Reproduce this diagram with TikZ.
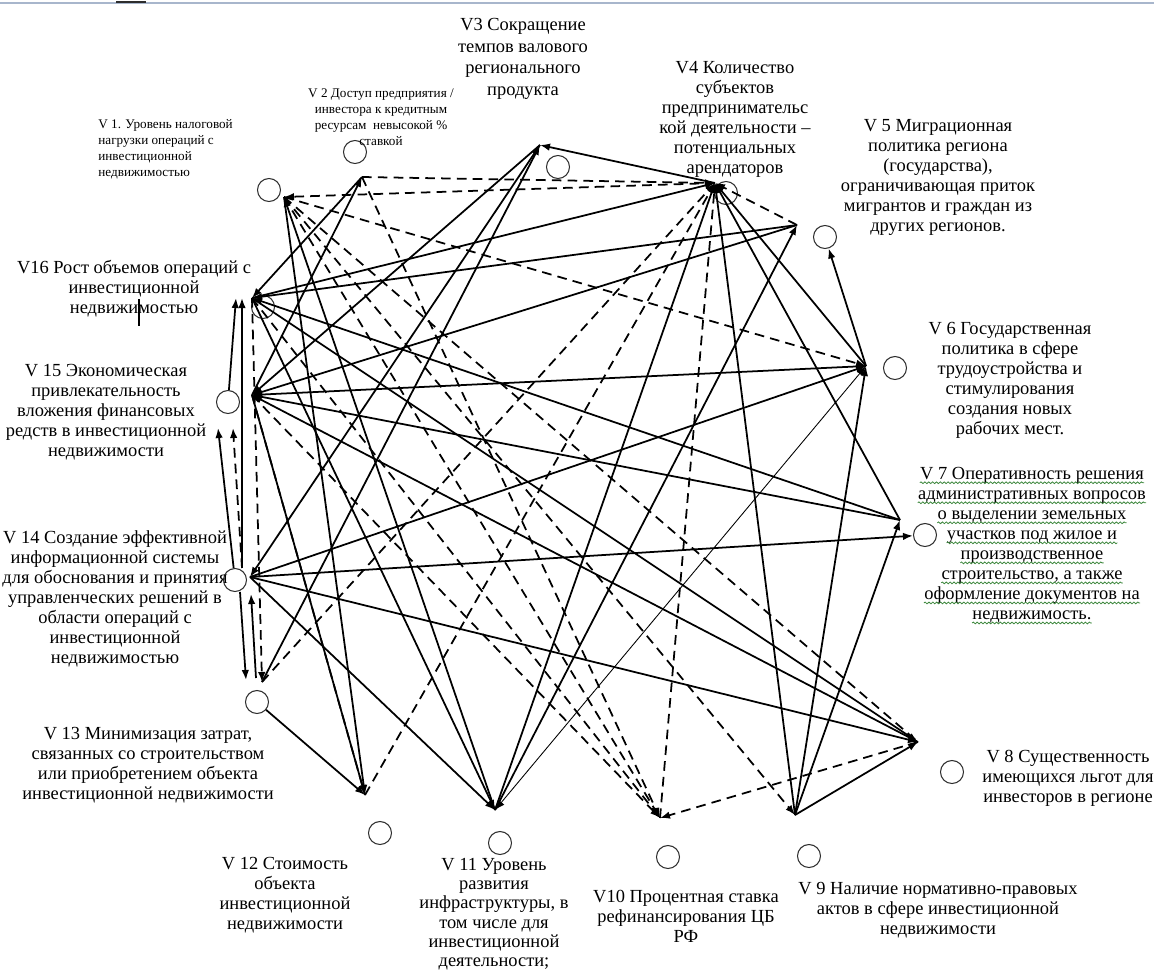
\documentclass[tikz,border=0pt]{standalone}
\usepackage{fontspec}
\setmainfont{Liberation Serif}
\usetikzlibrary{arrows.meta,decorations.pathmorphing}
\definecolor{inkgray}{RGB}{45,45,45}
\definecolor{ruleblue}{RGB}{168,182,204}
\definecolor{spellgreen}{RGB}{60,135,60}
\newcommand\spellwave[1]{\tikz[baseline=(w.base)]{\node[inner sep=0pt] (w) {#1};
  \draw[spellgreen,line width=0.45pt,decorate,decoration={snake,amplitude=0.5pt,segment length=2.2pt}]
    ([yshift=-1.8pt]w.base west) -- ([yshift=-1.8pt]w.base east);}}

\begin{document}
\begin{tikzpicture}[x=0.2mm,y=-0.2mm,
  vtx/.style={circle,draw=inkgray,line width=0.6pt,minimum size=4.6mm,inner sep=0pt},
  lbl/.style={align=center,anchor=north,inner sep=0pt,font=\fontsize{10.5}{11.4}\selectfont},
  tiny/.style={inner sep=0pt,font=\fontsize{7.5}{9.2}\selectfont},
  arc/.style={-{Latex[length=2mm,width=1.5mm]},line width=1pt},
  darc/.style={arc,dash pattern=on 5.5pt off 3.5pt},
  dln/.style={line width=1pt,dash pattern=on 5.5pt off 3.5pt},
  farc/.style={{Latex[length=2mm,width=1.5mm]}-{Latex[length=2mm,width=1.5mm]},line width=0.5pt}
]
  \useasboundingbox (0,0) rectangle (1154,972);
  \draw[ruleblue,line width=1.2pt] (0,3) -- (1154,3);
  \draw[inkgray,line width=1.4pt] (116,2) -- (146,2);

  % vertices
  \node[vtx] (v1) at (269,190) {};
  \node[vtx] (v2) at (355,152) {};
  \node[vtx] (v3) at (558,167) {};
  \node[vtx] (v4) at (726,193) {};
  \node[vtx] (v5) at (825,237) {};
  \node[vtx] (v6) at (895,368) {};
  \node[vtx] (v7) at (925,535) {};
  \node[vtx] (v8) at (952,772) {};
  \node[vtx] (v9) at (809,856) {};
  \node[vtx] (v10) at (668,857) {};
  \node[vtx] (v11) at (500,843) {};
  \node[vtx] (v12) at (380,833) {};
  \node[vtx] (v13) at (257,702) {};
  \node[vtx] (v14) at (235,580) {};
  \node[vtx] (v15) at (228,402) {};
  \node[vtx] (v16) at (263,307) {};

  % labels
  \node[tiny,align=left,anchor=north west] (l1) at (98,119) {V 1. Уровень налоговой\\нагрузки операций с\\инвестиционной\\недвижимостью};
  \node[tiny,align=center,anchor=north] (l2) at (381,88) {V 2 Доступ предприятия /\\инвестора к кредитным\\ресурсам\ \ невысокой \%\\ставкой};
  \node[lbl,font=\fontsize{10.5}{12.3}\selectfont] (l3) at (523,18) {V3 Сокращение\\темпов валового\\регионального\\продукта};
  \node[lbl] (l4) at (735,61) {V4 Количество\\субъектов\\предпринимательс\\кой деятельности –\\потенциальных\\арендаторов};
  \node[lbl] (l5) at (938,119) {V 5 Миграционная\\политика региона\\(государства),\\ограничивающая приток\\мигрантов и граждан из\\других регионов.};
  \node[lbl] (l6) at (1010,322) {V 6 Государственная\\политика в сфере\\трудоустройства и\\стимулирования\\создания новых\\рабочих мест.};
  \node[lbl] (l7) at (1032,467) {\spellwave{V 7 Оперативность решения}\\\spellwave{административных вопросов}\\\spellwave{о выделении земельных}\\\spellwave{участков под жилое и}\\\spellwave{производственное}\\\spellwave{строительство, а также}\\\spellwave{оформление документов на}\\\spellwave{недвижимость.}};
  \node[lbl] (l8) at (1068,750) {V 8 Существенность\\имеющихся льгот для\\инвесторов в регионе};
  \node[lbl] (l9) at (938,882) {V 9 Наличие нормативно-правовых\\актов в сфере инвестиционной\\недвижимости};
  \node[lbl] (l10) at (686,890) {V10 Процентная ставка\\рефинансирования ЦБ\\РФ};
  \node[lbl,font=\fontsize{10.5}{10.9}\selectfont] (l11) at (494,858) {V 11 Уровень\\развития\\инфраструктуры, в\\том числе для\\инвестиционной\\деятельности;};
  \node[lbl] (l12) at (285,857) {V 12 Стоимость\\объекта\\инвестиционной\\недвижимости};
  \node[lbl] (l13) at (148,727) {V 13 Минимизация затрат,\\связанных со строительством\\или приобретением объекта\\инвестиционной недвижимости};
  \node[lbl] (l14) at (115,530) {V 14 Создание эффективной\\информационной системы\\для обоснования и принятия\\управленческих решений в\\области операций с\\инвестиционной\\недвижимостью};
  \node[lbl] (l15) at (106,364) {V 15 Экономическая\\привлекательность\\вложения финансовых\\редств в инвестиционной\\недвижимости};
  \node[lbl] (l16) at (134,260) {V16 Рост объемов операций с\\инвестиционной\\недвижимостью};
  \draw[line width=1.6pt] (139,299) -- (139,326);

  % meeting points of the connectors
  \coordinate (p1) at (284,197);
  \coordinate (p2) at (362,177);
  \coordinate (p3) at (540,145);
  \coordinate (p4) at (715,183);
  \coordinate (p5) at (797,225);
  \coordinate (p6) at (866,366);
  \coordinate (p7) at (900,520);
  \coordinate (p8) at (918,742);
  \coordinate (p9) at (795,815);
  \coordinate (p10) at (660,818);
  \coordinate (p11) at (495,810);
  \coordinate (p12) at (365,795);
  \coordinate (p13) at (262,682);
  \coordinate (p14) at (250,577);
  \coordinate (p15) at (252,395);
  \coordinate (p16) at (252,298);
  \coordinate (p15a) at (218,428);
  \coordinate (p15b) at (233,428);
  \coordinate (p16a) at (236,298);
  \coordinate (p16b) at (242,298);
  \coordinate (p14a) at (240,592);
  \coordinate (p14b) at (251,594);
  \coordinate (p14c) at (242,568);
  \coordinate (p13a) at (246,680);
  \coordinate (p13b) at (256,678);

  % solid connectors
  \draw[arc] (p4) -- (p3);
  \draw[arc] (p16) -- (p4);
  \draw[arc] (p11) -- (p4);
  \draw[arc] (p9) -- (p4);
  \draw[arc] (p6) -- (p4);
  \draw[arc] (p7) -- (p4);
  \draw[arc] (p6) -- (v5);
  \draw[arc] (p11) -- (p5);
  \draw[arc] (p5) -- (p16);
  \draw[arc] (p5) -- (p15);
  \draw[arc] (p2) -- (p16);
  \draw[arc] (p15) -- (p2);
  \draw[arc] (p3) -- (p15);
  \draw[arc] (p3) -- (p14);
  \draw[arc] (p13) -- (p3);
  \draw[arc] (p1) -- (p12);
  \draw[arc] (p11) -- (p1);
  \draw[arc] (p15) -- (p12);
  \draw[arc] (v13) -- (p12);
  \draw[arc] (p14) -- (p11);
  \draw[arc] (p16) -- (p11);
  \draw[farc] (p11) -- (p6);
  \draw[arc] (p9) -- (p6);
  \draw[arc] (p9) -- (p7);
  \draw[arc] (p9) -- (p8);
  \draw[arc] (p14) -- (p8);
  \draw[arc] (p8) -- (p15);
  \draw[arc] (p16) -- (p8);
  \draw[arc] (p14) -- (v7);
  \draw[arc] (p7) -- (p16);
  \draw[arc] (p7) -- (p15);
  \draw[arc] (p6) -- (p15);
  \draw[arc] (p14) -- (p6);
  \draw[arc] (v15) -- (p16a);
  \draw[arc] (p14c) -- (p16b);
  \draw[arc] (v14) -- (p15a);
  \draw[arc] (p14a) -- (p13a);
  \draw[arc] (p13b) -- (p14b);

  % dashed connectors
  \draw[darc] (p4) -- (p1);
  \draw[darc] (p2) -- (p4);
  \draw[darc] (p13) -- (p4);
  \draw[darc] (p12) -- (p4);
  \draw[darc] (p10) -- (p4);
  \draw[darc] (p5) -- (p4);
  \draw[darc] (p1) -- (p6);
  \draw[darc] (p1) -- (p9);
  \draw[dln] (p1) -- (p8);
  \draw[darc] (p1) -- (p10);
  \draw[darc] (p2) -- (p10);
  \draw[darc] (p16) -- (p10);
  \draw[darc] (p15) -- (p10);
  \draw[darc] (p8) -- (p10);
  \draw[darc] (p16) -- (p13);
  \draw[darc] (p14c) -- (p15b);
  \draw[dln] (p15) -- (p12);
\end{tikzpicture}
\end{document}
